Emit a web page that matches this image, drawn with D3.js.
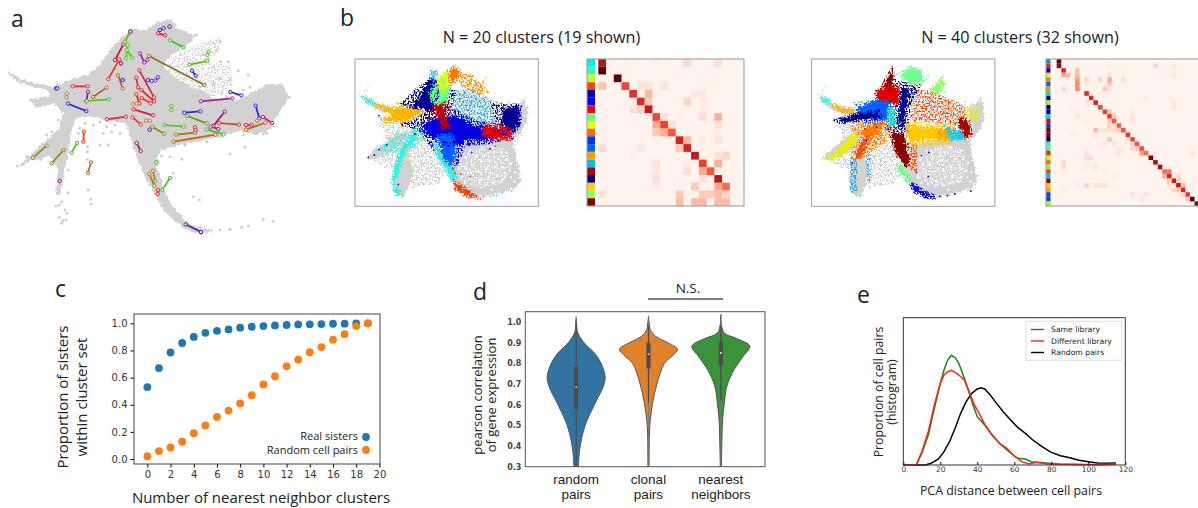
<!DOCTYPE html>
<html>
<head>
<meta charset="utf-8">
<script src="https://cdn.jsdelivr.net/npm/d3@7"></script>
<style>
  body { margin: 0; background: #fff; }
  svg { display: block; }
  text { fill: #222; }
  .lab { font-family: "Open Sans", sans-serif; }
  .tick text { font-family: "DejaVu Sans", sans-serif; }
</style>
</head>
<body>
<div id="fig"></div>
<script>
// panel a, coordinates: x1,y1,x2,y2,colour
var sisterPairs = [
  [370,133,345,180,"#c8104a"],[358,178,325,237,"#e83a10"],[383,135,378,175,"#44d410"],[380,150,397,173,"#44d410"],
  [391,95,375,125,"#66b010"],[363,190,363,190,"#7a20b0"],[420,160,433,187,"#a0209a"],[433,187,442,180,"#a0209a"],
  [447,168,613,255,"#8f7210"],[418,211,462,292,"#e0204a"],[409,233,414,262,"#f02020"],[424,270,462,304,"#f02020"],
  [409,283,418,310,"#f02020"],[425,294,452,310,"#f03020"],[354,226,368,265,"#c85a18"],[368,240,368,240,"#2a20e0"],
  [444,240,455,243,"#4a20d8"],[466,241,474,232,"#5a20c8"],[218,259,263,259,"#f02020"],[320,263,279,291,"#c06018"],
  [264,276,259,303,"#6a20b0"],[260,303,327,298,"#44c810"],[168,265,172,265,"#2a20e0"],[200,281,200,292,"#c87830"],
  [204,311,259,333,"#2a20d8"],[321,358,378,350,"#f0203a"],[398,352,422,373,"#f03020"],[401,328,459,346,"#d81a40"],
  [398,312,410,311,"#c08030"],[514,318,514,330,"#60c020"],[438,362,449,362,"#d07030"],[449,389,449,389,"#7a20b0"],
  [457,380,492,401,"#8a8a18"],[493,375,551,380,"#44c810"],[528,404,585,398,"#b86a18"],[521,425,646,404,"#b86a18"],
  [553,338,601,334,"#2a20d8"],[562,348,620,370,"#6a9a10"],[620,388,671,403,"#30c820"],[585,382,587,390,"#f02020"],
  [603,304,697,295,"#a0209a"],[691,276,724,286,"#3a20d8"],[767,317,778,355,"#1a20e8"],[674,335,640,378,"#a81070"],
  [632,380,655,387,"#c01060"],[658,369,717,374,"#d84010"],[738,375,755,375,"#f02020"],[738,389,796,368,"#a8781a"],
  [772,362,772,362,"#c87830"],[789,351,816,369,"#e01a50"],[626,155,622,165,"#60c020"],[568,194,622,183,"#60b818"],
  [576,212,587,227,"#2020e8"],[510,121,550,142,"#30c820"],[474,100,495,106,"#e8103a"],[480,90,491,85,"#3a20d8"],
  [509,80,509,80,"#6a20b0"],[391,95,391,95,"#7a20b0"],[252,395,250,425,"#e83a20"],[231,429,215,458,"#50c010"],
  [140,437,99,473,"#a08018"],[191,450,155,490,"#a08018"],[273,487,264,518,"#c06a20"],[179,543,179,543,"#a0208a"],
  [410,429,422,453,"#a81a70"],[469,487,469,487,"#40d020"],[448,522,463,557,"#a08018"],[459,512,465,542,"#a08018"],
  [510,534,487,570,"#40c820"],[474,570,473,582,"#f02020"],[557,673,603,696,"#5a18b0"]
];
var aBlob = [[25,215],[60,238],[110,252],[155,262],[215,240],[280,218],[305,190],[330,150],[365,115],[395,88],[440,92],[470,68],[510,60],[535,88],[575,105],[590,105],[552,140],[510,165],[488,200],[525,235],[565,258],[605,272],[640,298],[700,305],[740,290],[775,268],[800,256],[850,255],[866,295],[830,345],[815,385],[770,402],[720,392],[660,410],[600,420],[540,432],[480,450],[470,500],[490,570],[520,625],[570,675],[640,692],[600,702],[550,682],[500,640],[470,590],[440,540],[415,480],[395,420],[378,368],[330,362],[265,348],[228,352],[212,392],[208,430],[200,475],[187,540],[178,585],[170,575],[175,505],[152,465],[100,480],[60,495],[100,458],[140,420],[180,385],[190,340],[165,310],[105,322],[95,300],[150,290],[150,270],[100,258],[55,245],[28,225]];
var aUpperRight = [[600,130],[665,112],[660,150],[630,185],[690,195],[700,255],[640,290],[560,255],[500,235],[505,175],[560,150]];
var aStray = [[52,498],[70,492],[122,478],[92,300],[175,360],[190,372],[215,355],[205,395],[262,455],[262,478],[265,520],[265,570],[272,598],[273,612],[205,578],[168,618],[178,615],[195,630],[200,640],[178,652],[188,662],[198,660],[185,670],[300,435],[325,435],[310,400],[335,395],[360,400],[280,215],[300,212],[640,130],[660,125],[650,150],[610,165],[600,190],[640,200],[662,185],[685,185],[715,212],[745,225],[660,235],[690,240],[640,255],[560,225],[530,240],[510,240],[600,260],[565,110],[590,105],[735,442],[690,462],[790,658],[820,664],[745,678],[725,682],[690,688],[660,690],[580,590],[598,600],[520,520],[545,478],[510,470],[485,468],[840,260],[868,292],[800,400],[790,402],[730,405],[620,425],[555,435],[180,530],[172,580],[185,605],[280,375],[300,365],[255,370],[240,385],[320,380],[345,375],[730,270],[750,262],[712,285],[680,290],[665,280],[262,440],[235,400],[155,395],[140,405],[120,440],[80,470],[205,510]];

// panel b, maps read on a shared frame of 550 by 442
var mapTail = [[50,72],[38,88],[31,106],[42,124],[70,138],[105,148],[150,160],[150,176],[105,166],[70,154],[40,138],[28,116],[32,92]];
var mapLower = [[300,262],[360,245],[420,238],[478,240],[500,222],[516,185],[518,150],[508,116],[495,132],[470,150],[480,200],[475,240],[482,295],[492,330],[497,365],[482,388],[440,400],[400,412],[360,418],[325,402],[295,370],[280,340]];
var mapLegs = [[178,250],[150,270],[130,300],[116,340],[112,368],[120,396],[140,416],[150,410],[165,372],[175,340],[160,290],[170,262]];
var mapWing = [[130,262],[100,285],[55,302],[35,296],[60,270],[95,245],[125,222],[165,222]];
var mapFade = [[325,285],[390,258],[455,270],[470,325],[445,372],[375,388],[318,365],[305,320]];
var mapSparse = [
  [[300,95],[350,90],[420,125],[470,140],[470,200],[400,205],[300,175],[280,130]],
  [[65,170],[130,180],[180,220],[240,250],[270,340],[250,375],[170,385],[170,300],[110,330],[50,305],[100,240]]
];
var mapWhite = [[330,295],[345,275],[362,290],[380,270],[400,282],[418,265],[440,280],[455,300],[430,300],[405,305],[380,310],[355,318],[335,330],[320,352],[345,352],[372,338],[395,330],[420,325],[445,325],[465,335],[450,352],[425,350],[400,355],[375,365],[350,375],[330,372],[392,378],[415,372],[440,368],[468,355],[360,300],[310,300],[312,325],[385,292],[470,312],[300,290],[480,340],[410,392],[340,392],[478,368]];
var mapGray = [[85,205],[100,215],[115,200],[95,235],[75,200],[120,235],[190,255],[205,240],[225,262],[210,280],[190,290],[228,295],[205,315],[188,325],[225,335],[205,350],[235,320],[185,350],[240,345],[205,375],[190,375],[175,385],[255,330],[265,350],[220,310],[180,270],[245,290],[65,285],[85,290],[100,300],[110,318],[90,325],[310,105],[330,100],[350,115],[372,105],[395,115],[415,135],[440,130],[345,135],[320,135],[370,135],[395,150],[420,160],[355,155],[330,165],[300,150],[380,170],[415,185],[445,175],[400,195],[365,185],[335,190],[308,175],[460,130],[480,135]];

var clouds20 = [
  ["#30f0e0",[[60,275],[130,225],[185,205],[240,225],[180,265],[135,285]]],
  ["#ff9000",[[300,45],[350,45],[405,100],[370,108],[320,85]]],
  ["#20b0ff",[[285,95],[345,90],[420,130],[465,155],[460,205],[395,200],[320,185],[285,150]]],
  ["#ffb400",[[120,130],[230,130],[230,205],[140,205]]],
  ["#66ff88",[[205,95],[280,60],[300,130],[240,175],[210,155]]],
  ["#000090",[[120,150],[190,80],[260,55],[305,100],[280,170],[200,220],[140,200]]],
  ["#000090",[[405,130],[500,135],[500,200],[465,240],[420,185]]],
  ["#0000e0",[[175,190],[300,150],[365,185],[450,195],[475,240],[390,258],[330,262],[310,320],[270,320],[215,250]]],
  ["#b80000",[[205,130],[285,120],[300,215],[260,235],[225,190]]],
  ["#f00000",[[370,195],[470,190],[478,245],[400,245]]]
];
var blobs20 = [
  ["#30f0e0",[[180,218],[165,240],[142,265],[130,300],[118,345],[113,368],[124,352],[136,312],[152,272],[182,238]]],
  ["#30f0e0",[[118,385],[128,392],[136,405],[124,405]]],
  ["#30f0e0",[[238,245],[262,290],[290,330],[300,352],[296,366],[276,335],[250,290]]],
  ["#30f0e0",[[30,118],[52,125],[54,132],[36,126]]],
  ["#30c0f0",[[232,40],[242,40],[238,70],[228,72]]],
  ["#ffb400",[[60,136],[105,146],[150,148],[182,138],[198,158],[165,180],[128,186],[80,186],[108,172],[122,165],[92,152]]],
  ["#000090",[[195,118],[205,85],[228,62],[246,70],[252,95],[240,125],[232,152],[205,148],[170,142]]],
  ["#000090",[[445,150],[490,148],[492,190],[462,228],[445,195]]],
  ["#66ff88",[[226,102],[258,62],[282,88],[270,130],[240,142]]],
  ["#d4ff20",[[250,58],[280,38],[282,72],[260,98]]],
  ["#ff7a00",[[284,36],[300,25],[313,40],[302,60],[288,72]]],
  ["#0000e0",[[225,182],[300,172],[360,200],[420,208],[462,232],[400,240],[330,243],[300,262],[250,245],[215,225],[205,205]]],
  ["#0060ff",[[248,232],[290,228],[300,272],[292,322],[270,300]]],
  ["#f00000",[[385,208],[440,204],[464,212],[460,236],[420,236],[385,226]]],
  ["#b80000",[[240,140],[264,136],[272,180],[280,204],[264,206],[250,172]]],
  ["#ff4000",[[300,372],[322,385],[360,414],[340,412],[305,392]]]
];
var dots20 = [
  ["#30f0e0",[[360,416],[385,414],[405,412],[425,410],[442,402],[470,396],[80,268],[95,258],[120,392],[128,380],[170,232],[192,222],[240,42],[232,55],[280,310],[300,335]]],
  ["#b4f020",[[166,290],[167,305],[168,320],[170,335],[172,350],[385,65],[392,58]]],
  ["#0000d0",[[40,295],[58,288],[72,272],[95,258],[130,376],[72,170],[200,210],[180,225],[230,260],[430,245],[350,280],[405,270],[300,250],[340,255],[318,290],[205,190],[188,198],[160,196],[470,238]]],
  ["#ff7a00",[[330,55],[345,52],[320,70],[360,80],[372,92],[358,95],[385,70],[380,85],[398,100],[345,75],[300,70]]],
  ["#f03000",[[345,352],[318,345],[300,342],[420,262],[442,240],[470,222]]]
];
var clouds40 = [
  ["#ff4800",[[300,90],[360,95],[440,130],[480,160],[470,200],[400,200],[300,180]]],
  ["#ff4800",[[275,240],[315,240],[318,340],[290,330]]],
  ["#e8f000",[[458,145],[512,140],[500,185],[470,195]]],
  ["#20a8f0",[[116,295],[136,295],[138,405],[116,400]]],
  ["#20a8f0",[[164,285],[180,285],[178,370],[166,370]]],
  ["#ff8000",[[120,190],[235,170],[235,240],[150,300],[120,300]]],
  ["#0060ff",[[125,130],[255,115],[250,215],[165,205]]],
  ["#e00000",[[190,90],[285,85],[295,225],[240,225],[195,145]]],
  ["#ffc800",[[285,180],[430,195],[430,255],[300,265]]],
  ["#000090",[[250,65],[335,70],[300,130],[285,240],[250,210]]]
];
var blobs40 = [
  ["#ffb000",[[60,138],[100,150],[130,150],[118,160],[80,152]]],
  ["#30f0e0",[[32,118],[50,124],[52,130],[36,126]]],
  ["#e8f000",[[50,296],[90,266],[124,226],[136,240],[112,270],[62,296]]],
  ["#880000",[[240,38],[246,60],[238,88],[214,88],[226,62]]],
  ["#880000",[[240,222],[276,225],[292,312],[280,322],[256,284]]],
  ["#70ff90",[[270,45],[295,26],[326,35],[332,65],[300,72],[280,60]]],
  ["#90ff70",[[360,92],[392,60],[396,76],[380,102]]],
  ["#70ff90",[[265,312],[300,366],[290,368],[265,332]]],
  ["#e00000",[[195,98],[230,80],[262,90],[262,130],[232,132],[200,126]]],
  ["#a80000",[[446,180],[470,188],[476,226],[456,236],[446,206]]],
  ["#0060ff",[[140,152],[190,126],[232,132],[228,180],[190,182],[140,172]]],
  ["#000090",[[80,185],[130,168],[200,158],[205,176],[130,182],[88,188]]],
  ["#ff8000",[[150,222],[172,202],[215,192],[202,222],[165,238]]],
  ["#ff4800",[[134,292],[150,250],[172,235],[160,266],[142,296]]],
  ["#ffc800",[[290,200],[350,208],[420,212],[400,238],[340,238],[300,248],[288,238]]],
  ["#ffa800",[[378,216],[410,208],[425,238],[380,240]]],
  ["#20c8f0",[[405,210],[450,216],[456,240],[420,240]]],
  ["#000090",[[272,90],[296,90],[284,135],[272,208],[260,180],[268,125]]],
  ["#0000e0",[[300,372],[330,396],[372,416],[342,412],[310,396]]],
  ["#20e0d0",[[232,150],[245,150],[248,195],[235,195]]]
];
var dots40 = [
  ["#70ff90",[[255,45],[345,60],[350,50],[400,100],[80,182],[300,305],[285,250],[265,160]]],
  ["#0000e0",[[352,280],[350,352],[430,405],[478,396],[408,410],[385,412],[330,290],[315,340],[165,245],[122,312],[100,175],[230,210],[195,205]]],
  ["#e00000",[[250,205],[215,170],[190,195],[160,210],[300,170],[288,215],[310,185],[470,235],[480,225]]],
  ["#20e0d0",[[270,190],[255,150],[225,185],[295,175]]]
];

// heatmap cells as row, col, value
var cluster20 = ["#00f0f0","#33ffb8","#c0ff30","#ff4500","#0000b0","#0000ff","#ff0000","#66ff88","#e8ff00","#ff6a00","#0030ff","#0060ff","#ffa000","#00c0ff","#b00000","#000080","#ffd000","#90ff50","#800000"];
var heat20 = [
  [0,0,.82],[0,11,.14],[0,15,.12],[0,3,.03],[0,7,.03],[1,0,1],[2,2,1],[3,0,.22],[3,3,.6],[3,5,.1],[3,6,.1],[3,8,.1],
  [4,4,.66],[4,6,.25],[4,12,.08],[4,13,.08],[5,5,.68],[5,6,.2],[5,11,.16],[5,13,.05],[6,4,.1],[6,5,.18],[6,6,.78],[6,13,.05],
  [7,7,.6],[7,8,.12],[7,10,.03],[7,13,.12],[7,15,.28],[8,7,.3],[8,8,.62],[8,9,.12],[8,15,.1],[9,7,.2],[9,8,.28],[9,9,.55],[9,15,.05],
  [10,10,.72],[10,11,.25],[10,13,.05],[10,15,.1],[11,0,.12],[11,5,.08],[11,10,.2],[11,11,.72],[12,12,.78],[12,15,.1],[12,16,.15],[12,4,.04],
  [13,7,.1],[13,13,.62],[13,15,.28],[13,11,.05],[14,7,.08],[14,11,.12],[14,13,.3],[14,14,.55],[14,17,.03],
  [15,7,.12],[15,13,.1],[15,15,.8],[16,7,.05],[16,12,.2],[16,15,.3],[16,16,.5],
  [17,0,.1],[17,10,.2],[17,13,.2],[17,14,.2],[17,15,.25],[17,16,.15],[18,10,.25],[18,12,.25],[18,13,.25],[18,15,.25],[18,16,.25]
];
var cluster40 = ["#0090e0","#ff2000","#0000e0","#f0f000","#ff8000","#0060ff","#ff9000","#00e0d0","#0000c0","#b0f030","#000090","#000090","#00d0f0","#e00000","#0030ff","#800000","#800000","#000080","#40f0a0","#60f080","#ff2000","#e0f000","#ff7000","#a0f040","#ff4000","#00c0f0","#a00000","#ffc000","#ffa000","#0040ff","#0040ff","#c0f000"];
var heat40 = [
  [0,0,1],[1,0,.9],[1,21,.15],[1,11,.06],[1,25,.07],[2,1,.7],[2,4,.22],[3,1,.3],[3,2,.25],[3,4,.25],[3,11,.1],[3,25,.08],
  [4,4,.35],[4,6,.15],[4,9,.15],[4,11,.3],[4,14,.12],[5,4,.4],[5,11,.2],[5,6,.06],[6,1,.15],[6,4,.4],[6,10,.2],[6,11,.1],
  [7,6,.68],[7,11,.05],[8,7,.68],[8,19,.06],[9,6,.12],[9,7,.1],[9,8,.72],[9,25,.08],[10,9,.6],[10,25,.1],[10,3,.03],[11,10,.62],[11,11,.2],[11,16,.06],[11,4,.05],
  [12,11,.65],[12,12,.2],[12,16,.08],[12,4,.08],[13,11,.2],[13,12,.55],[13,6,.05],[13,16,.07],[14,11,.15],[14,13,.55],[14,12,.12],
  [15,8,.25],[15,9,.1],[15,10,.1],[15,11,.12],[15,12,.15],[15,14,.55],[15,13,.2],[16,15,.65],[16,3,.04],[16,10,.04],
  [17,11,.2],[17,16,.6],[17,15,.12],[18,10,.1],[18,12,.1],[18,16,.15],[18,17,.55],[19,16,.15],[19,17,.2],[19,18,.58],[19,13,.06],
  [20,13,.1],[20,19,.5],[20,18,.35],[20,29,.1],[20,6,.1],[21,6,.12],[21,7,.14],[21,20,.95],[22,1,.14],[22,21,.85],[22,6,.04],[23,1,.14],[23,8,.1],[23,22,.85],[23,6,.05],
  [24,23,.5],[24,24,.45],[24,10,.06],[25,12,.06],[25,24,.7],[25,26,.15],[25,23,.3],[26,25,.75],[26,24,.2],[26,26,.2],[27,26,.8],[27,27,.25],[27,4,.08],[27,6,.16],[27,8,.1],[27,9,.1],[27,10,.1],[27,24,.12],
  [28,27,.7],[28,25,.15],[28,26,.2],[28,1,.04],[29,28,.65],[29,16,.1],[29,19,.1],[29,27,.15],[30,29,1],[30,18,.08],[30,28,.2],[31,30,.95]
];

// panel c
var neighborCounts = d3.range(0, 20);
var realSisters = [.53,.67,.785,.855,.9,.93,.945,.955,.968,.975,.98,.985,.988,.992,.993,.995,.997,.998,.999,1];
var randomPairs = [.02,.058,.085,.127,.19,.247,.31,.357,.41,.47,.55,.61,.683,.733,.787,.825,.88,.92,.98,1];

// panel d, correlation value then relative half width
var violinRandom = [[.3,.08],[.35,.1],[.4,.14],[.5,.31],[.6,.63],[.69,.94],[.735,1],[.8,.86],[.85,.63],[.9,.27],[.95,.05],[.98,.02],[1.02,0]];
var violinClonal = [[.3,.02],[.4,.025],[.45,.03],[.525,.06],[.606,.14],[.7,.29],[.8,.55],[.84,.85],[.868,1],[.9,.66],[.93,.25],[.96,.07],[1,.02],[1.03,0]];
var violinNeighbor = [[.3,.02],[.41,.035],[.525,.06],[.606,.12],[.69,.21],[.77,.46],[.83,.75],[.883,1],[.92,.55],[.945,.13],[.98,.03],[1.037,0]];
var violinColors = ["#3274a1","#e1812c","#3a923a"];
var violinNames = [["random","pairs"],["clonal","pairs"],["nearest","neighbors"]];
var boxStats = [[.58,.685,.785,.3,1],[.775,.845,.9,.61,.98],[.79,.85,.905,.62,.98]];

// panel e
var sameLibrary = [[0,0],[7,0],[10,.35],[13.5,.9],[17,1.75],[20,2.45],[22,2.85],[24,3.15],[26,3.29],[28,3.22],[30,3.05],[33,2.6],[36,2.1],[38,1.75],[40,1.45],[44,1.2],[48,.9],[52,.65],[56,.45],[60,.27],[62,.2],[66,.18],[69,.1],[75,.07],[85,.02],[100,.01],[115,.02]];
var diffLibrary = [[0,0],[7,0],[10,.4],[13.5,1],[17,1.85],[20,2.45],[22,2.7],[24,2.8],[26,2.84],[28,2.78],[30,2.7],[33,2.55],[36,2.15],[38,1.85],[41,1.55],[44,1.22],[48,.9],[52,.65],[56,.5],[60,.27],[64,.1],[68,.03],[72,.08],[78,.03],[90,.02],[105,.01],[115,.03]];
var randomDist = [[0,0],[12,0],[15,.05],[19,.18],[22,.4],[25,.7],[28,1.1],[31,1.55],[34,1.9],[37,2.15],[40,2.28],[42,2.32],[44,2.28],[47,2.1],[50,1.88],[54,1.6],[58,1.35],[62,1.12],[66,.95],[70,.75],[75,.55],[80,.38],[85,.28],[90,.22],[95,.14],[100,.1],[105,.06],[110,.05],[115,.06]];
var distNames = ["Same library","Different library","Random pairs"];
var distColors = ["#108a10","#ff2020","#000"];

var svg = d3.select("#fig").append("svg").attr("width", 1198).attr("height", 508);
var defs = svg.append("defs");

function blurFilter(id, sd) {
  defs.append("filter").attr("id", id).append("feGaussianBlur").attr("stdDeviation", sd);
}
blurFilter("soft", 0.5);
blurFilter("cells", 0.35);

// ragged edges for the dense parts of the scatter clouds
function roughFilter(id, freq, scale, sd) {
  var f = defs.append("filter").attr("id", id).attr("color-interpolation-filters", "sRGB")
    .attr("x", "-10%").attr("y", "-10%").attr("width", "120%").attr("height", "120%");
  f.append("feTurbulence").attr("type", "fractalNoise").attr("baseFrequency", freq).attr("numOctaves", 2).attr("seed", 4).attr("result", "n");
  f.append("feDisplacementMap").attr("in", "SourceGraphic").attr("in2", "n").attr("scale", scale)
    .attr("xChannelSelector", "R").attr("yChannelSelector", "G").attr("result", "d");
  f.append("feGaussianBlur").attr("in", "d").attr("stdDeviation", sd);
}
roughFilter("rough", 0.4, 8, 0.5);
roughFilter("roughA", 0.3, 5, 0.5);

// grainy mask for the sparse parts
function grainFilter(id, seed, k, c) {
  var f = defs.append("filter").attr("id", id).attr("color-interpolation-filters", "sRGB")
    .attr("x", "-5%").attr("y", "-5%").attr("width", "110%").attr("height", "110%");
  f.append("feTurbulence").attr("type", "fractalNoise").attr("baseFrequency", 0.62).attr("numOctaves", 1).attr("seed", seed).attr("result", "n");
  f.append("feColorMatrix").attr("in", "n").attr("type", "matrix")
    .attr("values", "0 0 0 0 0  0 0 0 0 0  0 0 0 0 0  " + k + " 0 0 0 " + (-c)).attr("result", "m");
  f.append("feComposite").attr("in", "SourceGraphic").attr("in2", "m").attr("operator", "in").attr("result", "o");
  f.append("feGaussianBlur").attr("in", "o").attr("stdDeviation", 0.35);
}
grainFilter("grainGray", 7, 10, 5);
grainFilter("grainWhite", 11, 10, 5.2);
grainFilter("grainColor", 3, 10, 4.7);
grainFilter("grainColor2", 9, 10, 5);

function label(txt, x, y, size, anchor, rot) {
  var t = svg.append("text").attr("class", "lab").attr("font-size", size)
    .attr("text-anchor", anchor || "middle").text(txt);
  if (rot) t.attr("transform", "translate(" + x + "," + y + ") rotate(-90)");
  else t.attr("x", x).attr("y", y);
  return t;
}

// letters
label("a", 11, 27, 23, "start");
label("b", 340, 26, 23, "start");
label("c", 55, 297, 23, "start");
label("d", 473, 300, 23, "start");
label("e", 857, 303, 23, "start");

// ---- panel a
var ax = d3.scaleLinear().domain([0, 1020]).range([0, 340]);
var ay = d3.scaleLinear().domain([0, 720]).range([0, 240]);
var line2 = d3.line().x(function(d){return ax(d[0])}).y(function(d){return ay(d[1])});
svg.append("path").attr("d", line2(aUpperRight) + "Z").attr("fill", "#d2d2d2").attr("filter", "url(#grainGray)");
svg.append("path").attr("d", line2(aBlob) + "Z").attr("fill", "#d2d2d2").attr("stroke", "#d2d2d2").attr("stroke-width", 1).attr("filter", "url(#roughA)");
var ga = svg.append("g").attr("filter", "url(#soft)");
ga.selectAll(".stray").data(aStray).enter().append("circle")
  .attr("cx", function(d){return ax(d[0])}).attr("cy", function(d){return ay(d[1])})
  .attr("r", 1.5).attr("fill", "#cfcfcf");
var gp = svg.append("g").attr("filter", "url(#cells)");
gp.selectAll("line").data(sisterPairs).enter().append("line")
  .attr("x1", function(d){return ax(d[0])}).attr("y1", function(d){return ay(d[1])})
  .attr("x2", function(d){return ax(d[2])}).attr("y2", function(d){return ay(d[3])})
  .attr("stroke", function(d){return d[4]}).attr("stroke-width", 1.7);
sisterPairs.forEach(function(d){
  [[d[0],d[1]],[d[2],d[3]]].forEach(function(p){
    gp.append("circle").attr("cx", ax(p[0])).attr("cy", ay(p[1])).attr("r", 1.7)
      .attr("fill", "#e8e8e8").attr("stroke", d[4]).attr("stroke-width", 1);
  });
});

// ---- panel b
function drawMap(x0, clouds, blobs, dots) {
  var sx = d3.scaleLinear().domain([0, 550]).range([x0, x0 + 550 / 3]);
  var sy = d3.scaleLinear().domain([0, 442]).range([59, 59 + 442 / 3]);
  var ln = d3.line().x(function(d){return sx(d[0])}).y(function(d){return sy(d[1])});

  var sparse = svg.append("g").attr("filter", "url(#grainGray)");
  mapSparse.forEach(function(p){ sparse.append("path").attr("d", ln(p) + "Z").attr("fill", "#cccccc"); });
  var solid = svg.append("g").attr("filter", "url(#rough)");
  [mapTail, mapLower, mapLegs, mapWing].forEach(function(p){
    solid.append("path").attr("d", ln(p) + "Z").attr("fill", "#d2d2d2");
  });
  svg.append("path").attr("d", ln(mapFade) + "Z").attr("fill", "#fff").attr("filter", "url(#grainWhite)");

  var g = svg.append("g").attr("filter", "url(#soft)");
  g.selectAll(".w").data(mapWhite).enter().append("circle").attr("class", "w")
    .attr("cx", function(d){return sx(d[0])}).attr("cy", function(d){return sy(d[1])}).attr("r", 1.1).attr("fill", "#fff");
  g.selectAll(".g").data(mapGray).enter().append("circle").attr("class", "g")
    .attr("cx", function(d){return sx(d[0])}).attr("cy", function(d){return sy(d[1])}).attr("r", 1).attr("fill", "#cfcfcf");

  clouds.forEach(function(c, i){
    svg.append("path").attr("d", ln(c[1]) + "Z").attr("fill", c[0]).attr("filter", "url(#" + (i % 2 ? "grainColor" : "grainColor2") + ")");
  });
  var b = svg.append("g").attr("filter", "url(#rough)");
  blobs.forEach(function(d){
    b.append("path").attr("d", ln(d[1]) + "Z").attr("fill", d[0]);
  });
  // grain fringe so the dense parts fade into their clouds
  var fringe = svg.append("g").attr("filter", "url(#grainColor)");
  blobs.forEach(function(d){
    fringe.append("path").attr("d", ln(d[1]) + "Z").attr("fill", "none").attr("stroke", d[0]).attr("stroke-width", 5);
  });
  var top = svg.append("g").attr("filter", "url(#cells)");
  dots.forEach(function(c){
    c[1].forEach(function(p){
      top.append("circle").attr("cx", sx(p[0])).attr("cy", sy(p[1])).attr("r", 0.9).attr("fill", c[0]);
    });
  });
  svg.append("rect").attr("x", x0).attr("y", 59).attr("width", 550 / 3).attr("height", 442 / 3)
    .attr("fill", "none").attr("stroke", "#a8a8a8").attr("stroke-width", 1.1);
}
drawMap(355, clouds20, blobs20, dots20);
drawMap(811.5, clouds40, blobs40, dots40);

function drawHeat(x0, xCells, xEnd, stripW, n, cells, colors) {
  var sx = d3.scaleBand().domain(d3.range(n)).range([xCells, xCells + 147]);
  var sy = d3.scaleBand().domain(d3.range(n)).range([59, 206]);
  var col = d3.scaleSequential(d3.interpolateReds).domain([0, 1]);
  var clipId = "clip" + n;
  defs.append("clipPath").attr("id", clipId).append("rect").attr("x", x0).attr("y", 59).attr("width", xEnd - x0).attr("height", 147);
  var g = svg.append("g").attr("clip-path", "url(#" + clipId + ")");
  g.append("rect").attr("x", x0).attr("y", 59).attr("width", xEnd - x0).attr("height", 147).attr("fill", "#fff3ed");
  var c = g.append("g").attr("filter", "url(#cells)");
  c.selectAll("rect").data(cells).enter().append("rect")
    .attr("x", function(d){return sx(d[1])}).attr("y", function(d){return sy(d[0])})
    .attr("width", sx.bandwidth()).attr("height", sy.bandwidth())
    .attr("fill", function(d){return d[2] == 1 ? "#5a0008" : col(d[2])});
  g.append("rect").attr("x", x0).attr("y", 59).attr("width", stripW + 3).attr("height", 147).attr("fill", "#fff");
  g.selectAll(".s").data(colors).enter().append("rect").attr("class", "s")
    .attr("x", x0).attr("y", function(d, i){return sy(i)}).attr("width", stripW).attr("height", sy.bandwidth())
    .attr("fill", function(d){return d});
  svg.append("rect").attr("x", x0).attr("y", 59).attr("width", xEnd - x0).attr("height", 147)
    .attr("fill", "none").attr("stroke", "#a0a0a0").attr("stroke-width", 1.1);
}
drawHeat(587, 598.3, 744, 8, 19, heat20, cluster20);
drawHeat(1046, 1056.7, 1199, 4.5, 32, heat40, cluster40);

label("N = 20 clusters (19 shown)", 541.5, 43, 16.2);
label("N = 40 clusters (32 shown)", 1020, 43, 16.2);

// ---- panel c
var cx = d3.scaleLinear().domain([-1.15, 20.05]).range([134, 380]);
var cy = d3.scaleLinear().domain([-0.037, 1.069]).range([464, 314]);
svg.append("g").attr("transform", "translate(0,464)")
  .call(d3.axisBottom(cx).tickValues(d3.range(0, 21, 2)).tickSize(3.5).tickPadding(3))
  .call(function(g){g.selectAll("text").attr("font-size", 10).style("fill", "#333"); g.select(".domain").remove()});
svg.append("g").attr("transform", "translate(134,0)")
  .call(d3.axisLeft(cy).tickValues([0,.2,.4,.6,.8,1]).tickFormat(d3.format(".1f")).tickSize(3.5).tickPadding(3))
  .call(function(g){g.selectAll("text").attr("font-size", 10).style("fill", "#333"); g.select(".domain").remove()});
svg.append("rect").attr("x", 134).attr("y", 314).attr("width", 246).attr("height", 150).attr("fill", "none").attr("stroke", "#444");
svg.append("g").selectAll("circle").data(realSisters).enter().append("circle")
  .attr("cx", function(d, i){return cx(neighborCounts[i])}).attr("cy", function(d){return cy(d)})
  .attr("r", 3.9).attr("fill", "#1f77b4");
svg.append("g").selectAll("circle").data(randomPairs).enter().append("circle")
  .attr("cx", function(d, i){return cx(neighborCounts[i])}).attr("cy", function(d){return cy(d)})
  .attr("r", 3.9).attr("fill", "#ff7f0e");
label("Real sisters", 358, 440, 11, "end");
label("Random cell pairs", 358, 453.5, 11, "end");
svg.append("circle").attr("cx", 366).attr("cy", 437).attr("r", 3.9).attr("fill", "#1f77b4");
svg.append("circle").attr("cx", 366).attr("cy", 450).attr("r", 3.9).attr("fill", "#ff7f0e");
label("Number of nearest neighbor clusters", 261, 503, 15);
label("Proportion of sisters", 68, 397, 15, "middle", true);
label("within cluster set", 87, 397, 15, "middle", true);

// ---- panel d
var dx = d3.scaleBand().domain([0,1,2]).range([540, 757]).padding(0);
var dy = d3.scaleLinear().domain([0.3, 1]).range([466.7, 322]);
var dw = d3.scaleLinear().domain([0, 1]).range([0, 29]);
var clipD = defs.append("clipPath").attr("id", "clipd");
clipD.append("rect").attr("x", 525).attr("y", 312).attr("width", 240).attr("height", 155);
var gd = svg.append("g").attr("clip-path", "url(#clipd)");
[violinRandom, violinClonal, violinNeighbor].forEach(function(v, i){
  var c = dx(i) + dx.bandwidth() / 2;
  var area = d3.area().curve(d3.curveCatmullRom.alpha(0.5))
    .y(function(d){return dy(d[0])}).x0(function(d){return c - dw(d[1])}).x1(function(d){return c + dw(d[1])});
  gd.append("path").attr("d", area(v)).attr("fill", violinColors[i]).attr("stroke", "#555").attr("stroke-width", 1);
  var b = boxStats[i];
  gd.append("line").attr("x1", c).attr("x2", c).attr("y1", dy(0.3)).attr("y2", dy(1.03)).attr("stroke", "#777").attr("stroke-width", 0.8);
  gd.append("line").attr("x1", c).attr("x2", c).attr("y1", dy(b[3])).attr("y2", dy(b[4])).attr("stroke", "#4a4a4a").attr("stroke-width", 1.2);
  gd.append("rect").attr("x", c - 2).attr("width", 4).attr("y", dy(b[2])).attr("height", dy(b[0]) - dy(b[2])).attr("fill", "#4a4a4a");
  gd.append("circle").attr("cx", c).attr("cy", dy(b[1])).attr("r", 0.9).attr("fill", "#f2f2f2");
  var t = svg.append("text").attr("font-family", "Liberation Sans").attr("font-size", 13.5).attr("text-anchor", "middle");
  violinNames[i].forEach(function(n, j){
    t.append("tspan").attr("x", c).attr("y", 483.5 + j * 15.7).text(n);
  });
});
svg.append("g").attr("transform", "translate(525.3,0)")
  .call(d3.axisLeft(dy).tickValues([.3,.4,.5,.6,.7,.8,.9,1]).tickFormat(d3.format(".1f")).tickSize(0).tickPadding(4))
  .call(function(g){g.selectAll("text").attr("font-size", 8).attr("font-weight", "bold").style("fill", "#444"); g.select(".domain").remove()});
svg.append("rect").attr("x", 525.3).attr("y", 311.7).attr("width", 239.7).attr("height", 155).attr("fill", "none").attr("stroke", "#555");
svg.append("line").attr("x1", 648).attr("x2", 723).attr("y1", 299).attr("y2", 299).attr("stroke", "#555").attr("stroke-width", 1.5);
label("N.S.", 688, 293, 13.5);
label("pearson correlation", 482, 395, 13, "middle", true);
label("of gene expression", 496, 395, 13, "middle", true);

// ---- panel e
var ex = d3.scaleLinear().domain([0, 120]).range([903.3, 1125.3]);
var ey = d3.scaleLinear().domain([0, 4.42]).range([465, 317.7]);
var ln = d3.line().x(function(d){return ex(d[0])}).y(function(d){return ey(d[1])});
var ge = svg.append("g").attr("fill", "none").attr("stroke-width", 1.5);
[randomDist, sameLibrary, diffLibrary].forEach(function(s, i){
  ge.append("path").attr("d", ln(s)).attr("stroke", [distColors[2], distColors[0], distColors[1]][i]);
});
svg.append("g").attr("transform", "translate(0,465)")
  .call(d3.axisBottom(ex).tickValues(d3.range(0, 121, 20)).tickSize(-3).tickPadding(2))
  .call(function(g){g.selectAll("text").attr("font-size", 7.5).style("fill", "#333"); g.select(".domain").remove()});
svg.append("rect").attr("x", 903.3).attr("y", 317.7).attr("width", 222).attr("height", 147.3).attr("fill", "none").attr("stroke", "#333");
svg.append("rect").attr("x", 1026).attr("y", 321.3).attr("width", 95.7).attr("height", 39).attr("fill", "#fff").attr("stroke", "#ddd");
distNames.forEach(function(n, i){
  var y = 329.5 + i * 11.5;
  svg.append("line").attr("x1", 1031).attr("x2", 1044).attr("y1", y).attr("y2", y).attr("stroke", distColors[i]).attr("stroke-width", 1.4);
  svg.append("text").attr("x", 1051).attr("y", y + 2.8).attr("font-size", 7.7).attr("font-family", "DejaVu Sans").text(n);
});
label("PCA distance between cell pairs", 1011, 495, 12.4);
label("Proportion of cell pairs", 883, 392, 12.3, "middle", true);
label("(histogram)", 896, 392, 12.3, "middle", true);
</script>
</body>
</html>
